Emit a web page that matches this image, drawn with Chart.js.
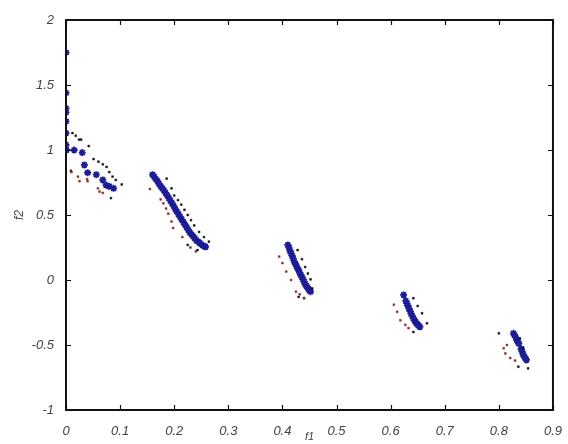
<!DOCTYPE html>
<html>
<head>
<meta charset="utf-8">
<script src="https://cdn.jsdelivr.net/npm/chart.js@4.4.1/dist/chart.umd.min.js"></script>
<style>
  html, body { margin: 0; padding: 0; background: #fff; }
  #wrap { width: 568px; height: 444px; }
</style>
</head>
<body>
<div id="wrap"><canvas id="c"></canvas></div>
<script>
// axis ticks
const xTicks = [0, 0.1, 0.2, 0.3, 0.4, 0.5, 0.6, 0.7, 0.8, 0.9];
const yTicks = [-1, -0.5, 0, 0.5, 1, 1.5, 2];

// blue front (star markers)
const blueX = [0, 0, 0, 0, 0, 0, 0, 0.001,
  0.015, 0.03, 0.034, 0.04, 0.056, 0.068, 0.074, 0.08, 0.088,
  0.160, 0.163, 0.166, 0.169, 0.172, 0.175, 0.178, 0.181, 0.184, 0.187, 0.190, 0.193, 0.196, 0.199,
  0.202, 0.205, 0.208, 0.211, 0.214, 0.217, 0.220, 0.223, 0.226, 0.229, 0.232, 0.235, 0.238, 0.241,
  0.244, 0.247, 0.250, 0.253, 0.256, 0.258,
  0.410, 0.412, 0.414, 0.416, 0.418, 0.420, 0.422, 0.424, 0.426, 0.428, 0.430, 0.432, 0.434, 0.436,
  0.438, 0.440, 0.442, 0.444, 0.446, 0.448, 0.450, 0.452,
  0.624, 0.628, 0.630, 0.632, 0.634, 0.636, 0.638, 0.640, 0.642, 0.644, 0.646, 0.648, 0.650, 0.652, 0.654,
  0.827, 0.829, 0.831, 0.833, 0.835, 0.837, 0.841, 0.843, 0.845, 0.847, 0.849, 0.851];
const blueY = [1.75, 1.44, 1.32, 1.29, 1.22, 1.13, 1.04, 1.0,
  1.0, 0.98, 0.885, 0.825, 0.81, 0.77, 0.73, 0.72, 0.705,
  0.81, 0.795, 0.775, 0.76, 0.74, 0.72, 0.705, 0.69, 0.67, 0.65, 0.63, 0.61, 0.59, 0.57,
  0.545, 0.525, 0.505, 0.485, 0.465, 0.445, 0.425, 0.405, 0.385, 0.365, 0.35, 0.335, 0.32, 0.305,
  0.295, 0.285, 0.275, 0.265, 0.258, 0.255,
  0.27, 0.25, 0.225, 0.205, 0.185, 0.165, 0.14, 0.125, 0.105, 0.09, 0.075, 0.055, 0.04, 0.022,
  0.005, -0.013, -0.03, -0.045, -0.056, -0.068, -0.08, -0.09,
  -0.115, -0.16, -0.18, -0.2, -0.22, -0.24, -0.26, -0.278, -0.295, -0.31, -0.322, -0.333, -0.343, -0.352, -0.36,
  -0.41, -0.425, -0.44, -0.46, -0.475, -0.49, -0.53, -0.55, -0.575, -0.59, -0.603, -0.615];

// black dots
const blackX = [0.012, 0.018, 0.024, 0.028, 0.042, 0.051, 0.06, 0.068, 0.075, 0.08, 0.086, 0.092, 0.103, 0.083, 0.009,
  0.186, 0.195, 0.2, 0.207, 0.213, 0.219, 0.225, 0.231, 0.237, 0.246, 0.255, 0.264, 0.225, 0.243,
  0.428, 0.436, 0.442, 0.447, 0.452, 0.455, 0.43, 0.44,
  0.642, 0.65, 0.658, 0.667, 0.642,
  0.8, 0.839, 0.845, 0.854, 0.836];
const blackY = [1.13, 1.11, 1.08, 1.08, 1.03, 0.93, 0.91, 0.89, 0.87, 0.83, 0.795, 0.77, 0.735, 0.63, 0.84,
  0.78, 0.705, 0.65, 0.615, 0.58, 0.54, 0.5, 0.46, 0.42, 0.37, 0.33, 0.295, 0.27, 0.23,
  0.23, 0.16, 0.1, 0.05, 0.005, -0.065, -0.13, -0.14,
  -0.14, -0.2, -0.256, -0.333, -0.4,
  -0.41, -0.45, -0.52, -0.68, -0.667];

// dark red dots
const redX = [0.01, 0.022, 0.025, 0.039, 0.04, 0.059, 0.062, 0.068,
  0.155, 0.175, 0.18, 0.185, 0.189, 0.195, 0.198, 0.215, 0.23, 0.24,
  0.394, 0.4, 0.407, 0.416, 0.425, 0.432, 0.44,
  0.606, 0.612, 0.618, 0.627, 0.633,
  0.809, 0.812, 0.821, 0.815, 0.83];
const redY = [0.83, 0.795, 0.76, 0.775, 0.76, 0.705, 0.68, 0.67,
  0.7, 0.62, 0.59, 0.55, 0.51, 0.45, 0.4, 0.33, 0.25, 0.22,
  0.18, 0.13, 0.065, 0.0, -0.09, -0.11, -0.14,
  -0.19, -0.245, -0.31, -0.345, -0.37,
  -0.525, -0.565, -0.6, -0.5, -0.62];

const toPts = (xs, ys) => xs.map((x, i) => ({ x: x, y: ys[i] }));
const fontFamily = '"Liberation Sans", Arial, sans-serif';

// matlab-like frame with inward ticks on every side
const framePlugin = {
    id: 'frame',
    afterDatasetsDraw(chart) {
        const { ctx, chartArea: a, scales } = chart;
        ctx.save();
        ctx.strokeStyle = '#111';
        ctx.lineWidth = 2;
        ctx.strokeRect(a.left, a.top, a.right - a.left, a.bottom - a.top);
        ctx.lineWidth = 1.2;
        ctx.beginPath();
        xTicks.forEach(v => {
            const px = Math.round(scales.x.getPixelForValue(v)) + 0.5;
            ctx.moveTo(px, a.bottom); ctx.lineTo(px, a.bottom - 5);
            ctx.moveTo(px, a.top); ctx.lineTo(px, a.top + 5);
        });
        yTicks.forEach(v => {
            const py = Math.round(scales.y.getPixelForValue(v)) + 0.5;
            ctx.moveTo(a.left, py); ctx.lineTo(a.left + 5, py);
            ctx.moveTo(a.right, py); ctx.lineTo(a.right - 5, py);
        });
        ctx.stroke();
        ctx.restore();
    }
};

new Chart(document.getElementById('c'), {
    type: 'scatter',
    data: {
        datasets: [
            {
                label: 'red',
                data: toPts(redX, redY),
                pointStyle: 'rect',
                pointRadius: 1.3,
                backgroundColor: '#8a2a1e',
                borderColor: '#8a2a1e',
                borderWidth: 0.5
            },
            {
                label: 'black',
                data: toPts(blackX, blackY),
                pointStyle: 'rect',
                pointRadius: 1.3,
                backgroundColor: '#111',
                borderColor: '#111',
                borderWidth: 0.5
            },
            {
                label: 'front',
                data: toPts(blueX, blueY),
                pointStyle: 'star',
                pointRadius: 3.5,
                borderWidth: 1.8,
                backgroundColor: '#1c1c96',
                borderColor: '#1c1c96'
            }
        ]
    },
    options: {
        responsive: true,
        maintainAspectRatio: false,
        animation: false,
        layout: { padding: { top: 20, right: 6, left: 0, bottom: 0 } },
        plugins: {
            legend: { display: false },
            tooltip: { enabled: false }
        },
        scales: {
            x: {
                type: 'linear',
                min: 0,
                max: 0.9,
                afterFit: s => { s.height = 34; },
                afterBuildTicks: s => { s.ticks = xTicks.map(v => ({ value: v })); },
                grid: { display: false },
                border: { display: false },
                ticks: {
                    padding: 6,
                    color: '#444',
                    font: { family: fontFamily, size: 13, style: 'italic' },
                    maxRotation: 0,
                    callback: v => String(Number(v.toFixed(1)))
                },
                title: {
                    display: true,
                    text: 'f1',
                    color: '#444',
                    padding: { top: 0, bottom: 0 },
                    font: { family: fontFamily, size: 11, style: 'italic' }
                }
            },
            y: {
                type: 'linear',
                min: -1,
                max: 2,
                afterFit: s => { s.width = 66; },
                afterBuildTicks: s => { s.ticks = yTicks.map(v => ({ value: v })); },
                grid: { display: false },
                border: { display: false },
                ticks: {
                    padding: 4,
                    color: '#444',
                    font: { family: fontFamily, size: 13, style: 'italic' },
                    callback: v => String(Number(v.toFixed(1)))
                },
                title: {
                    display: true,
                    text: 'f2',
                    color: '#444',
                    padding: { top: 12, bottom: 0 },
                    font: { family: fontFamily, size: 12, style: 'italic' }
                }
            }
        }
    },
    plugins: [framePlugin]
});
</script>
</body>
</html>
